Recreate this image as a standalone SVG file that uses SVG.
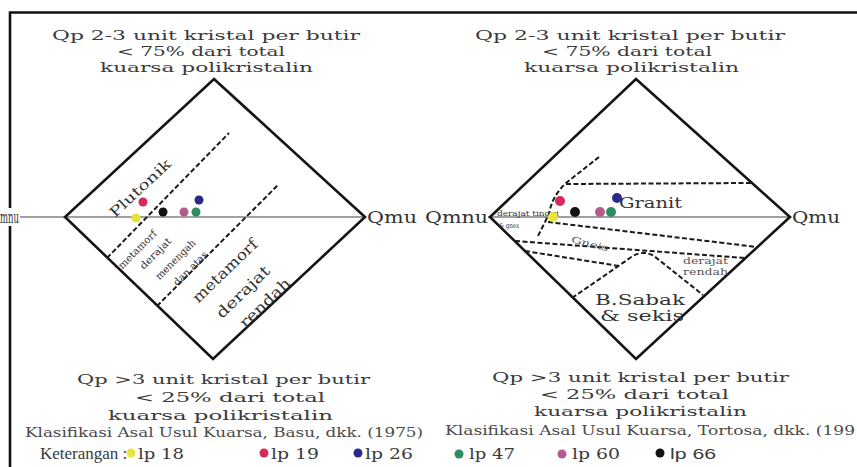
<svg xmlns="http://www.w3.org/2000/svg" width="857" height="467" viewBox="0 0 857 467">
<style>
.t{font-family:"DejaVu Serif","Liberation Serif",serif;fill:#333;}
.ti{font-size:13.5px;fill:#3a3a3a;}
.ax{font-size:16px;}
.cap{font-size:12px;fill:#4a4a4a;}
.lg{font-family:"DejaVu Serif","Liberation Serif",serif;font-size:15px;fill:#3a3a3a;}
.sm{font-size:9px;fill:#555;}
.dia{fill:none;stroke:#141414;stroke-width:2.6;stroke-linejoin:miter;}
.axis{stroke:#808080;stroke-width:1.5;}
.dash{fill:none;stroke:#1a1a1a;stroke-width:2;stroke-dasharray:5 2.5;}
</style>
<rect width="857" height="467" fill="#ffffff"/>
<g id="frame" fill="none" stroke="#111" stroke-width="2.6">
<path d="M10,467 L10,12.5 L857,12.5"/>
</g>
<rect x="0" y="208" width="21" height="18" fill="#fff"/>

<g id="titles" class="t ti">
<text x="52" y="40" textLength="308" lengthAdjust="spacingAndGlyphs">Qp 2-3 unit kristal per butir</text>
<text x="117" y="56" textLength="168" lengthAdjust="spacingAndGlyphs">&lt; 75% dari total</text>
<text x="100" y="72" textLength="213" lengthAdjust="spacingAndGlyphs">kuarsa polikristalin</text>
<text x="475" y="40" textLength="310" lengthAdjust="spacingAndGlyphs">Qp 2-3 unit kristal per butir</text>
<text x="542" y="56" textLength="170" lengthAdjust="spacingAndGlyphs">&lt; 75% dari total</text>
<text x="524" y="72" textLength="215" lengthAdjust="spacingAndGlyphs">kuarsa polikristalin</text>
<text x="77" y="384" textLength="293" lengthAdjust="spacingAndGlyphs">Qp &gt;3 unit kristal per butir</text>
<text x="135" y="402" textLength="190" lengthAdjust="spacingAndGlyphs">&lt; 25% dari total</text>
<text x="108" y="420" textLength="225" lengthAdjust="spacingAndGlyphs">kuarsa polikristalin</text>
<text x="492" y="382" textLength="297" lengthAdjust="spacingAndGlyphs">Qp &gt;3 unit kristal per butir</text>
<text x="540" y="399" textLength="189" lengthAdjust="spacingAndGlyphs">&lt; 25% dari total</text>
<text x="534" y="416" textLength="213" lengthAdjust="spacingAndGlyphs">kuarsa polikristalin</text>
</g>

<g id="basu">
<line class="axis" x1="20" y1="217" x2="365" y2="217"/>
<path class="dia" d="M214,79 L365,217 L213,359 L65,217 Z"/>
<g id="basu-boundaries">
<line class="dash" x1="107" y1="258" x2="229" y2="133"/>
<line class="dash" x1="157" y1="306" x2="278" y2="185"/>
</g>
<text class="t ax" x="0" y="223" textLength="19" lengthAdjust="spacingAndGlyphs">mnu</text>
<text class="t ax" x="367" y="223" textLength="50" lengthAdjust="spacingAndGlyphs">Qmu</text>
<text class="t" font-size="14" fill="#3a3a78" text-anchor="middle" transform="translate(140,188) rotate(-43)" y="5" textLength="78" lengthAdjust="spacingAndGlyphs">Plutonik</text>
<g class="t" font-size="10" fill="#444" text-anchor="middle">
<text transform="translate(137,249) rotate(-45)" y="4" textLength="50" lengthAdjust="spacingAndGlyphs">metamorf</text>
<text transform="translate(155,253) rotate(-45)" y="4" textLength="40" lengthAdjust="spacingAndGlyphs">derajat</text>
<text transform="translate(175,259) rotate(-45)" y="4" textLength="52" lengthAdjust="spacingAndGlyphs">menengah</text>
<text transform="translate(190,268) rotate(-45)" y="4" textLength="44" lengthAdjust="spacingAndGlyphs">dan atas</text>
</g>
<g class="t" font-size="15" fill="#3a3a3a" text-anchor="middle">
<text transform="translate(225,271) rotate(-44)" y="5" textLength="84" lengthAdjust="spacingAndGlyphs">metamorf</text>
<text transform="translate(243,292) rotate(-44)" y="5" textLength="68" lengthAdjust="spacingAndGlyphs">derajat</text>
<text transform="translate(265,303) rotate(-44)" y="5" textLength="64" lengthAdjust="spacingAndGlyphs">rendah</text>
</g>
<g id="basu-points">
<circle cx="143" cy="202" r="4.5" fill="#d42a5c"/>
<circle cx="199" cy="200" r="4.5" fill="#2b2a86"/>
<circle cx="136" cy="218" r="4.5" fill="#e6e43c"/>
<circle cx="163" cy="212" r="4.5" fill="#111"/>
<circle cx="184" cy="212" r="4.5" fill="#b45a8e"/>
<circle cx="196" cy="212" r="4.5" fill="#2e8c62"/>
</g>
</g>

<g id="tortosa">
<line class="axis" x1="488" y1="217" x2="790" y2="217"/>
<path class="dia" d="M636,79 L790,217 L636,359 L490,217 Z"/>
<g id="tortosa-boundaries">
<path class="dash" d="M599,157 L566,183 Q552,196 549,214 L538,236"/>
<line class="dash" x1="566" y1="184" x2="751" y2="183"/>
<line class="dash" x1="548" y1="222" x2="757" y2="247"/>
<line class="dash" x1="515" y1="241" x2="745" y2="258"/>
<line class="dash" x1="525" y1="251" x2="619" y2="266"/>
<path class="dash" d="M572,298 L630,258 Q642,249 654,256 L703,295"/>
</g>
<text class="t ax" x="425" y="223" textLength="63" lengthAdjust="spacingAndGlyphs">Qmnu</text>
<text class="t ax" x="792" y="223" textLength="48" lengthAdjust="spacingAndGlyphs">Qmu</text>
<text class="t" font-size="15" fill="#333" x="619" y="208" textLength="63" lengthAdjust="spacingAndGlyphs">Granit</text>
<text class="t" font-size="8" fill="#777" x="497" y="216" textLength="62" lengthAdjust="spacingAndGlyphs">derajat tinggi</text>
<text class="t" font-size="7" fill="#777" x="499" y="228" textLength="20" lengthAdjust="spacingAndGlyphs">&amp; gnes</text>
<text class="t sm" text-anchor="middle" transform="translate(590,244) rotate(14)" y="3" textLength="38" lengthAdjust="spacingAndGlyphs">Gneis</text>
<text class="t sm" x="683" y="264" textLength="45" lengthAdjust="spacingAndGlyphs">derajat</text>
<text class="t sm" x="683" y="275" textLength="45" lengthAdjust="spacingAndGlyphs">rendah</text>
<text class="t" font-size="14" fill="#3a3a3a" x="595" y="305" textLength="90" lengthAdjust="spacingAndGlyphs">B.Sabak</text>
<text class="t" font-size="14" fill="#3a3a3a" x="600" y="321" textLength="84" lengthAdjust="spacingAndGlyphs">&amp; sekis</text>
<g id="tortosa-points">
<circle cx="560" cy="201" r="5" fill="#d42a5c"/>
<circle cx="617" cy="198" r="5" fill="#2b2a86"/>
<circle cx="553" cy="217" r="5" fill="#e6e43c"/>
<circle cx="575" cy="212" r="5" fill="#111"/>
<circle cx="600" cy="212" r="5" fill="#b45a8e"/>
<circle cx="611" cy="212" r="5" fill="#2e8c62"/>
</g>
</g>

<g id="captions" class="t cap">
<text x="25" y="437" textLength="398" lengthAdjust="spacingAndGlyphs">Klasifikasi Asal Usul Kuarsa, Basu, dkk. (1975)</text>
<text x="445" y="435" textLength="410" lengthAdjust="spacingAndGlyphs">Klasifikasi Asal Usul Kuarsa, Tortosa, dkk. (199</text>
</g>

<g id="legend" class="lg">
<text x="40" y="459" font-family="Liberation Serif, Times New Roman, serif" font-size="17">Keterangan :</text>
<circle cx="131" cy="453" r="4.5" fill="#e6e43c"/>
<text x="138" y="459" textLength="46" lengthAdjust="spacingAndGlyphs">lp 18</text>
<circle cx="264" cy="453" r="4.5" fill="#d42a5c"/>
<text x="271" y="459" textLength="48" lengthAdjust="spacingAndGlyphs">lp 19</text>
<circle cx="358" cy="453" r="4.5" fill="#2b2a86"/>
<text x="365" y="459" textLength="48" lengthAdjust="spacingAndGlyphs">lp 26</text>
<circle cx="459" cy="454" r="4.5" fill="#2e8c62"/>
<text x="469" y="459" textLength="46" lengthAdjust="spacingAndGlyphs">lp 47</text>
<circle cx="562" cy="454" r="4.5" fill="#b45a8e"/>
<text x="572" y="459" textLength="48" lengthAdjust="spacingAndGlyphs">lp 60</text>
<circle cx="660" cy="453" r="4.5" fill="#111"/>
<text x="670" y="459" font-family="Liberation Sans, Arial, sans-serif" textLength="46" lengthAdjust="spacingAndGlyphs">lp 66</text>
</g>
</svg>
